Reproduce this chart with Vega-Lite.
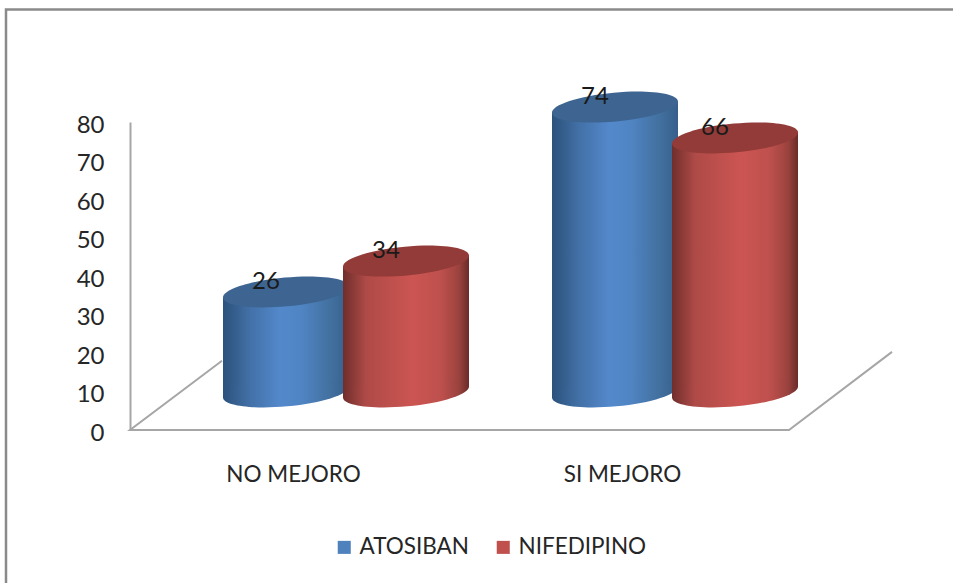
{
  "$schema": "https://vega.github.io/schema/vega-lite/v6.json",
  "autosize": "none",
  "width": 762,
  "height": 308,
  "padding": {"left": 130, "top": 122, "right": 61, "bottom": 153},
  "background": "white",
  "config": {"font": "Lato", "view": {"stroke": null}, "axis": {"labelOverlap": false}, "axisY": {"tickCount": 8}},
  "data": {"values": [
    {"categoria": "NO MEJORO", "serie": "ATOSIBAN", "valor": 26},
    {"categoria": "NO MEJORO", "serie": "NIFEDIPINO", "valor": 34},
    {"categoria": "SI MEJORO", "serie": "ATOSIBAN", "valor": 74},
    {"categoria": "SI MEJORO", "serie": "NIFEDIPINO", "valor": 66}
  ]},
  "resolve": {"scale": {"x": "independent"}},
  "layer": [
    {
      "data": {"values": [
        {"orden": 0, "u": -124, "nivel": -40},
        {"orden": 1, "u": -124, "nivel": 109.2},
        {"orden": 2, "u": 900, "nivel": 109.2}
      ]},
      "mark": {"type": "line", "strokeWidth": 2.5, "color": "#8A8A8A", "clip": false},
      "encoding": {
        "x": {"field": "u", "type": "quantitative", "axis": null, "scale": {"domain": [0, 762], "nice": false, "zero": false}},
        "y": {
          "field": "nivel", "type": "quantitative", "title": null,
          "scale": {"domain": [0, 80], "nice": false},
          "axis": {
            "tickCount": 8, "grid": false, "ticks": false, "labelOverlap": false,
            "domainColor": "#A6A6A6", "domainWidth": 2, "labelPadding": 26, "labelOffset": 3,
            "labelFontSize": 24, "labelColor": "#262626", "labelFont": "Lato"
          }
        },
        "order": {"field": "orden", "type": "quantitative"}
      }
    },
    {
      "data": {"values": [
        {"orden": 0, "u": 92, "nivel": 18},
        {"orden": 1, "u": 0, "nivel": 0},
        {"orden": 2, "u": 659, "nivel": 0},
        {"orden": 3, "u": 762, "nivel": 20.3}
      ]},
      "mark": {"type": "line", "strokeWidth": 2, "color": "#A6A6A6", "clip": false},
      "encoding": {
        "x": {"field": "u", "type": "quantitative", "axis": null, "scale": {"domain": [0, 762], "nice": false, "zero": false}},
        "y": {"field": "nivel", "type": "quantitative", "title": null},
        "order": {"field": "orden", "type": "quantitative"}
      }
    },
    {
      "transform": [{"filter": "datum.serie === 'ATOSIBAN'"}],
      "resolve": {"scale": {"xOffset": "independent"}},
      "encoding": {
        "x": {"field": "categoria", "type": "nominal", "axis": null, "scale": {"domain": ["NO MEJORO", "SI MEJORO"], "range": [51.5, 709.5], "padding": 0}}
      },
      "layer": [
        {"mark": {"type": "bar", "width": 126, "yOffset": -32.5, "y2Offset": -43.5},
         "encoding": {
           "xOffset": {"field": "serie", "type": "nominal", "scale": {"type": "band", "domain": ["ATOSIBAN", "NIFEDIPINO"], "range": [44.5, 284.5], "padding": 0}},
           "y": {"field": "valor", "type": "quantitative", "stack": null},
           "y2": {"datum": 0},
           "color": {"field": "serie", "type": "nominal", "title": null,
             "scale": {"domain": ["ATOSIBAN", "NIFEDIPINO"], "range": ["#4F81BD", "#C0504D"]},
             "legend": {"orient": "none", "legendX": 203, "legendY": 414, "direction": "horizontal", "columns": 2, "symbolType": "square", "symbolSize": 170, "labelFontSize": 22.5, "labelColor": "#262626", "labelFont": "Lato", "columnPadding": 23, "labelOffset": 4}}
         }},
        {"mark": {"type": "bar", "width": 126, "yOffset": -32.5, "y2Offset": -43.5, "fill": {"gradient": "linear", "x1": 0, "y1": 0, "x2": 1, "y2": 0, "stops": [{"offset": 0, "color": "#2C527C"}, {"offset": 0.22, "color": "#4371A8"}, {"offset": 0.45, "color": "#5388CB"}, {"offset": 0.62, "color": "#5085C4"}, {"offset": 0.85, "color": "#42709F"}, {"offset": 1, "color": "#365F8C"}]}},
         "encoding": {
           "xOffset": {"field": "serie", "type": "nominal", "scale": {"type": "band", "domain": ["ATOSIBAN", "NIFEDIPINO"], "range": [44.5, 284.5], "padding": 0}},
           "y": {"field": "valor", "type": "quantitative", "stack": null}, "y2": {"datum": 0}}},
        {"mark": {"type": "bar", "width": 18, "yOffset": -43.5, "y2Offset": -43.5, "fill": {"gradient": "linear", "x1": 0, "y1": 0, "x2": 1, "y2": 0, "stops": [{"offset": 0, "color": "#42709F"}, {"offset": 1, "color": "#365F8C"}]}},
         "encoding": {
           "xOffset": {"field": "serie", "type": "nominal", "scale": {"type": "band", "domain": ["ATOSIBAN", "NIFEDIPINO"], "range": [98.5, 338.5], "padding": 0}},
           "y": {"field": "valor", "type": "quantitative", "stack": null}, "y2": {"datum": 0}}},
        {"mark": {"type": "bar", "width": 18, "yOffset": -32.5, "y2Offset": -32.5, "fill": {"gradient": "linear", "x1": 0, "y1": 0, "x2": 1, "y2": 0, "stops": [{"offset": 0, "color": "#2C527C"}, {"offset": 1, "color": "#3A6596"}]}},
         "encoding": {
           "xOffset": {"field": "serie", "type": "nominal", "scale": {"type": "band", "domain": ["ATOSIBAN", "NIFEDIPINO"], "range": [-9.5, 230.5], "padding": 0}},
           "y": {"field": "valor", "type": "quantitative", "stack": null}, "y2": {"datum": 0}}},
        {"mark": {"type": "point", "filled": true, "opacity": 1, "size": 15876, "yOffset": -38, "shape": "M -1 0.092 A 1.004 0.229 -5.26 1 1 1 -0.092 A 1.004 0.229 -5.26 1 1 -1 0.092 Z", "fill": {"gradient": "linear", "x1": 0, "y1": 0, "x2": 1, "y2": 0, "stops": [{"offset": 0, "color": "#2C527C"}, {"offset": 0.22, "color": "#4371A8"}, {"offset": 0.45, "color": "#5388CB"}, {"offset": 0.62, "color": "#5085C4"}, {"offset": 0.85, "color": "#42709F"}, {"offset": 1, "color": "#365F8C"}]}},
         "encoding": {
           "xOffset": {"field": "serie", "type": "nominal", "scale": {"type": "band", "domain": ["ATOSIBAN", "NIFEDIPINO"], "range": [44.5, 284.5], "padding": 0}},
           "y": {"datum": 0}}},
        {"mark": {"type": "point", "filled": true, "opacity": 1, "size": 15876, "yOffset": -38, "shape": "M -1 0.092 A 1.004 0.229 -5.26 1 1 1 -0.092 A 1.004 0.229 -5.26 1 1 -1 0.092 Z", "fill": "#3E6591"},
         "encoding": {
           "xOffset": {"field": "serie", "type": "nominal", "scale": {"type": "band", "domain": ["ATOSIBAN", "NIFEDIPINO"], "range": [44.5, 284.5], "padding": 0}},
           "y": {"field": "valor", "type": "quantitative", "stack": null}}}
      ]
    },
    {
      "transform": [{"filter": "datum.serie === 'NIFEDIPINO'"}],
      "resolve": {"scale": {"xOffset": "independent"}},
      "encoding": {
        "x": {"field": "categoria", "type": "nominal", "axis": null, "scale": {"domain": ["NO MEJORO", "SI MEJORO"], "range": [51.5, 709.5], "padding": 0}}
      },
      "layer": [
        {"mark": {"type": "bar", "width": 126, "yOffset": -32.5, "y2Offset": -43.5},
         "encoding": {
           "xOffset": {"field": "serie", "type": "nominal", "scale": {"type": "band", "domain": ["ATOSIBAN", "NIFEDIPINO"], "range": [44.5, 284.5], "padding": 0}},
           "y": {"field": "valor", "type": "quantitative", "stack": null},
           "y2": {"datum": 0},
           "color": {"field": "serie", "type": "nominal", "title": null,
             "scale": {"domain": ["ATOSIBAN", "NIFEDIPINO"], "range": ["#4F81BD", "#C0504D"]}}
         }},
        {"mark": {"type": "bar", "width": 126, "yOffset": -32.5, "y2Offset": -43.5, "fill": {"gradient": "linear", "x1": 0, "y1": 0, "x2": 1, "y2": 0, "stops": [{"offset": 0, "color": "#702E2C"}, {"offset": 0.18, "color": "#AE4A47"}, {"offset": 0.55, "color": "#CC5552"}, {"offset": 0.78, "color": "#BD504D"}, {"offset": 0.92, "color": "#9A423E"}, {"offset": 1, "color": "#6A2B29"}]}},
         "encoding": {
           "xOffset": {"field": "serie", "type": "nominal", "scale": {"type": "band", "domain": ["ATOSIBAN", "NIFEDIPINO"], "range": [44.5, 284.5], "padding": 0}},
           "y": {"field": "valor", "type": "quantitative", "stack": null}, "y2": {"datum": 0}}},
        {"mark": {"type": "bar", "width": 18, "yOffset": -43.5, "y2Offset": -43.5, "fill": {"gradient": "linear", "x1": 0, "y1": 0, "x2": 1, "y2": 0, "stops": [{"offset": 0, "color": "#AC4945"}, {"offset": 0.45, "color": "#9A423E"}, {"offset": 1, "color": "#6A2B29"}]}},
         "encoding": {
           "xOffset": {"field": "serie", "type": "nominal", "scale": {"type": "band", "domain": ["ATOSIBAN", "NIFEDIPINO"], "range": [98.5, 338.5], "padding": 0}},
           "y": {"field": "valor", "type": "quantitative", "stack": null}, "y2": {"datum": 0}}},
        {"mark": {"type": "bar", "width": 18, "yOffset": -32.5, "y2Offset": -32.5, "fill": {"gradient": "linear", "x1": 0, "y1": 0, "x2": 1, "y2": 0, "stops": [{"offset": 0, "color": "#702E2C"}, {"offset": 1, "color": "#A04440"}]}},
         "encoding": {
           "xOffset": {"field": "serie", "type": "nominal", "scale": {"type": "band", "domain": ["ATOSIBAN", "NIFEDIPINO"], "range": [-9.5, 230.5], "padding": 0}},
           "y": {"field": "valor", "type": "quantitative", "stack": null}, "y2": {"datum": 0}}},
        {"mark": {"type": "point", "filled": true, "opacity": 1, "size": 15876, "yOffset": -38, "shape": "M -1 0.092 A 1.004 0.229 -5.26 1 1 1 -0.092 A 1.004 0.229 -5.26 1 1 -1 0.092 Z", "fill": {"gradient": "linear", "x1": 0, "y1": 0, "x2": 1, "y2": 0, "stops": [{"offset": 0, "color": "#702E2C"}, {"offset": 0.18, "color": "#AE4A47"}, {"offset": 0.55, "color": "#CC5552"}, {"offset": 0.78, "color": "#BD504D"}, {"offset": 0.92, "color": "#9A423E"}, {"offset": 1, "color": "#6A2B29"}]}},
         "encoding": {
           "xOffset": {"field": "serie", "type": "nominal", "scale": {"type": "band", "domain": ["ATOSIBAN", "NIFEDIPINO"], "range": [44.5, 284.5], "padding": 0}},
           "y": {"datum": 0}}},
        {"mark": {"type": "point", "filled": true, "opacity": 1, "size": 15876, "yOffset": -38, "shape": "M -1 0.092 A 1.004 0.229 -5.26 1 1 1 -0.092 A 1.004 0.229 -5.26 1 1 -1 0.092 Z", "fill": "#933B38"},
         "encoding": {
           "xOffset": {"field": "serie", "type": "nominal", "scale": {"type": "band", "domain": ["ATOSIBAN", "NIFEDIPINO"], "range": [44.5, 284.5], "padding": 0}},
           "y": {"field": "valor", "type": "quantitative", "stack": null}}}
      ]
    },
    {
      "mark": {"type": "text", "fontSize": 24, "font": "Lato", "color": "#1A1A1A", "dx": -20, "dy": -48, "baseline": "middle"},
      "encoding": {
        "x": {"field": "categoria", "type": "nominal", "title": null, "scale": {"domain": ["NO MEJORO", "SI MEJORO"], "range": [51.5, 709.5], "padding": 0},
          "axis": {"orient": "bottom", "domain": false, "ticks": false, "labelAngle": 0, "labelOffset": -52.5, "labelPadding": 33, "labelFontSize": 22.5, "labelColor": "#262626", "labelFont": "Lato"}},
        "xOffset": {"field": "serie", "type": "nominal", "scale": {"type": "band", "domain": ["ATOSIBAN", "NIFEDIPINO"], "range": [44.5, 284.5], "padding": 0}},
        "y": {"field": "valor", "type": "quantitative", "stack": null},
        "text": {"field": "valor", "type": "quantitative"}
      }
    }
  ]
}
